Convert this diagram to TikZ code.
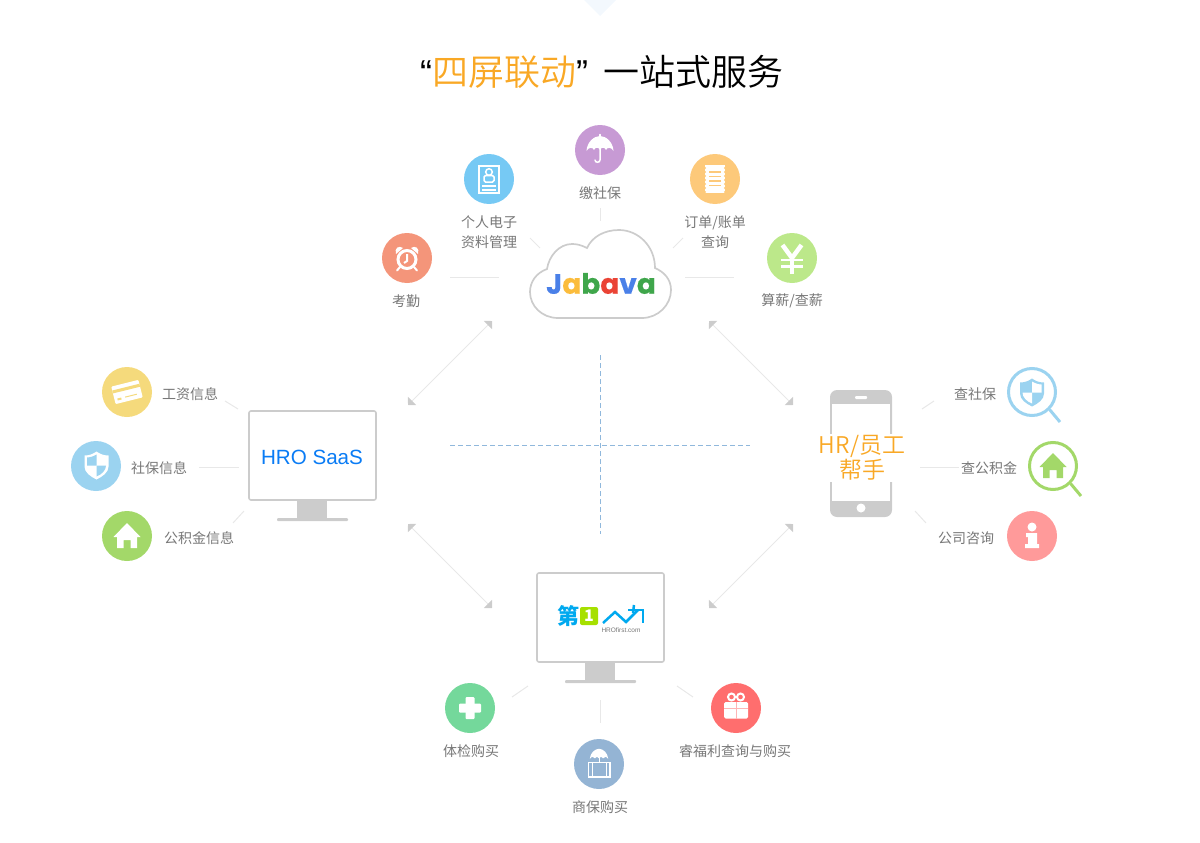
\documentclass[tikz,border=0pt]{standalone}
\usepackage{fontspec}
\usepackage{tikz}
\usetikzlibrary{arrows.meta}
\setmainfont{Noto Sans CJK SC}
\newfontfamily\lightcjk{Noto Sans CJK SC DemiLight}
\newfontfamily\latinfont{Liberation Sans}
\newfontfamily\logofont{Poppins}
\definecolor{titleorange}{HTML}{F9A825}
\definecolor{monogray}{HTML}{CCCCCC}
\definecolor{ticklight}{HTML}{E8E8E8}
\definecolor{labelgray}{HTML}{777777}
\definecolor{crossblue}{HTML}{90B8DC}
\definecolor{pageblue}{HTML}{F3F8FD}
\definecolor{shieldblue}{HTML}{9BD3F0}
\definecolor{housegreen}{HTML}{A3D869}
\definecolor{cardyellow}{HTML}{F5DA7C}
\definecolor{receiptorange}{HTML}{FDC97A}
\definecolor{giftred}{HTML}{FF6E6E}
\definecolor{giftline}{HTML}{FFB5B5}
\definecolor{logoblue}{HTML}{00A9EF}
\definecolor{logogreen}{HTML}{A6E000}
\definecolor{saasblue}{HTML}{0A7CF5}
\definecolor{clockred}{HTML}{F4957A}
\definecolor{profileblue}{HTML}{76C9F4}
\definecolor{umbrellapurple}{HTML}{C79AD4}
\definecolor{salarygreen}{HTML}{BCE88A}
\definecolor{infopink}{HTML}{FF9A9A}
\definecolor{healthgreen}{HTML}{74D89B}
\definecolor{coverblue}{HTML}{94B4D4}
\tikzset{
  iconbase/.style={circle,minimum size=50pt,inner sep=0pt,fill=#1},
  itemlabel/.style={text=labelgray,font=\fontsize{14}{20}\selectfont,align=center,inner sep=0pt},
  tickline/.style={draw=ticklight,line width=1pt},
  linkarrow/.style={draw=ticklight,line width=1pt,
    {Triangle[length=5.7pt,width=11.3pt,color=monogray]}-{Triangle[length=5.7pt,width=11.3pt,color=monogray]}},
  crossline/.style={draw=crossblue,line width=1pt,dash pattern=on 5pt off 3pt},
  pics/monitor/.style={code={
    \draw[monogray,line width=1.6pt,rounded corners=2pt,fill=white] (0,0) rectangle (127,89);
    \fill[monogray] (48,90) rectangle (78,107);
    \fill[monogray,rounded corners=1pt] (28,107) rectangle (99,110);
  }},
  pics/shieldicon/.style 2 args={code={
    \fill[#1] (0,-14) .. controls (4,-11) and (8,-10) .. (12,-10) -- (12,1) .. controls (12,7) and (6,11) .. (0,14)
      .. controls (-6,11) and (-12,7) .. (-12,1) -- (-12,-10) .. controls (-8,-10) and (-4,-11) .. (0,-14) -- cycle;
    \fill[#2] (0,-11) .. controls (3,-9) and (7,-8) .. (9.5,-8) -- (9.5,0) -- (0,0) -- cycle;
    \fill[#2] (-9.5,0) -- (0,0) -- (0,11) .. controls (-5,9) and (-9.5,5) .. (-9.5,0) -- cycle;
  }},
  pics/houseicon/.style={code={
    \fill[#1] (0,-13) -- (13.5,1) -- (10,1) -- (10,12) -- (3.5,12) -- (3.5,4) -- (-3.5,4) -- (-3.5,12) -- (-10,12) -- (-10,1) -- (-13.5,1) -- cycle;
  }},
  pics/umbrellaicon/.style={code={
    \fill[white] (-13.5,0) .. controls (-13,-9) and (-6,-15) .. (0,-15) .. controls (6,-15) and (13,-9) .. (13.5,0)
      .. controls (11.5,-4) and (7,-4) .. (6,-1) .. controls (5,-4) and (1,-4) .. (0,-1)
      .. controls (-1,-4) and (-5,-4) .. (-6,-1) .. controls (-7,-4) and (-11.5,-4) .. (-13.5,0) -- cycle;
  }},
}
\begin{document}
\begin{tikzpicture}[x=1pt,y=-1pt]
\useasboundingbox (0,0) rectangle (1200,843);
\fill[pageblue] (584,0) -- (616,0) -- (600,16) -- cycle;
% title
\node[font=\lightcjk\fontsize{36}{40}\selectfont,inner sep=0pt,anchor=west] (title) at (420,72) {{\latinfont “}\textcolor{titleorange}{四屏联动}{\latinfont ”}\hspace{15pt}一站式服务};
% centre cross
\coordinate (crossT) at (600.5,355);
\coordinate (crossB) at (600.5,534);
\coordinate (crossL) at (450,445);
\coordinate (crossR) at (750,445);
\draw[crossline] (crossT) -- (crossB);
\draw[crossline] (crossL) -- (crossR);
% links between the four screens
\coordinate (tlA) at (408,405);
\coordinate (tlB) at (492,321);
\coordinate (trA) at (793,405);
\coordinate (trB) at (709,321);
\coordinate (blA) at (408,524);
\coordinate (blB) at (492,608);
\coordinate (brA) at (793,524);
\coordinate (brB) at (709,608);
\draw[linkarrow] (tlA) -- (tlB);
\draw[linkarrow] (trA) -- (trB);
\draw[linkarrow] (blA) -- (blB);
\draw[linkarrow] (brA) -- (brB);
% cloud
\draw[monogray,line width=1.7pt] (558,318) -- (642,318) .. controls (658,318) and (671,305) .. (671,290)
  .. controls (671,279) and (664,272) .. (655,268) .. controls (655,246) and (638,230) .. (619,230)
  .. controls (604,230) and (592,237) .. (587,248) .. controls (581,245) and (577,244) .. (572,244)
  .. controls (559,244) and (549,256) .. (547,269) .. controls (536,273) and (530,282) .. (530,292)
  .. controls (530,306) and (542,318) .. (558,318) -- cycle;
\node[font=\logofont\bfseries\fontsize{28}{30}\selectfont,inner sep=0pt] (jabava) at (601,283.5)
  {\addfontfeatures{LetterSpace=6,FakeBold=0.3}\textcolor[HTML]{4A80E8}{J}\textcolor[HTML]{FBBC3C}{a}\textcolor[HTML]{3FA64B}{b}\textcolor[HTML]{EA4335}{a}\textcolor[HTML]{4A80E8}{v}\textcolor[HTML]{3FA64B}{a}};
% top icons
\node[iconbase=clockred] (clock) at (407,258) {};
\node[iconbase=profileblue] (profile) at (489,179) {};
\node[iconbase=umbrellapurple] (umbrella) at (600,150) {};
\node[iconbase=receiptorange] (receipt) at (715,179) {};
\node[iconbase=salarygreen] (salary) at (792,258) {};
\draw[white,line width=3pt] (407,259.5) circle (9);
\draw[white,line width=2pt] (407,254) -- (407,261) -- (404,263);
\fill[white] (396,254) .. controls (394,248) and (399,245) .. (403,248) -- cycle;
\fill[white] (418,254) .. controls (420,248) and (415,245) .. (411,248) -- cycle;
\draw[white,line width=2pt,line cap=round] (400,267) -- (397,270.5);
\draw[white,line width=2pt,line cap=round] (414,267) -- (417,270.5);
\draw[white,line width=2pt] (479,166) rectangle (499,193);
\draw[white,line width=1.5pt] (489,172) circle (3.3);
\draw[white,line width=1.5pt,rounded corners=1.5pt] (484,175.5) rectangle (494,182);
\draw[white,line width=1.5pt] (482,186) -- (496,186);
\draw[white,line width=1.5pt] (482,190) -- (496,190);
\pic at (600,151) {umbrellaicon};
\draw[white,line width=1.5pt,line cap=round] (600,134.5) -- (600,137);
\draw[white,line width=1.5pt,line cap=round] (600,148) -- (600,160) .. controls (600,163) and (595,163) .. (595,160);
\fill[white] (705,165) rectangle (725,193);
\foreach \yy in {168,172,...,192} {
  \fill[receiptorange] (705,\yy) circle (1.1);
  \fill[receiptorange] (725,\yy) circle (1.1);
}
\foreach \yy in {172,176.5,181,185.5}
  \draw[receiptorange,line width=1.3pt] (709,\yy) -- (721,\yy);
\draw[white,line width=4.5pt] (782.5,245) -- (792,258) -- (801.5,245);
\draw[white,line width=4.5pt] (792,258) -- (792,273.5);
\draw[white,line width=2.8pt] (781,260) -- (803,260);
\draw[white,line width=2.8pt] (781,266.5) -- (803,266.5);
% left icons
\node[iconbase=cardyellow] (card) at (127,392) {};
\node[iconbase=shieldblue] (shield) at (96,466) {};
\node[iconbase=housegreen] (house) at (127,536) {};
\begin{scope}[shift={(127,392)},rotate=14]
\fill[white,rounded corners=1pt] (-14,-9) rectangle (14,9);
\fill[cardyellow] (-14,-5) rectangle (14,-2);
\fill[cardyellow] (-11,4) rectangle (-7,6);
\fill[cardyellow] (-3,4) rectangle (9,5);
\end{scope}
\pic[xscale=-1] at (96.5,465.5) {shieldicon={white}{shieldblue}};
\pic at (127,536) {houseicon=white};
% right icons
\node[iconbase=white,draw=shieldblue,line width=3pt,minimum size=47pt] (searchA) at (1032,392) {};
\node[iconbase=white,draw=housegreen,line width=3pt,minimum size=47pt] (searchB) at (1053,466) {};
\node[iconbase=infopink] (info) at (1032,536) {};
\coordinate (handleA) at (1060,422);
\coordinate (handleB) at (1081,496);
\draw[shieldblue,line width=3pt] (searchA.-45) -- (handleA);
\draw[housegreen,line width=3pt] (searchB.-45) -- (handleB);
\pic at (1032,392.5) {shieldicon={shieldblue}{white}};
\pic at (1053,466) {houseicon=housegreen};
\fill[white] (1032,527) circle (4.5);
\fill[white] (1026,533) -- (1037,533) -- (1037,544) -- (1039,544) -- (1039,548) -- (1025,548) -- (1025,544) -- (1028,544) -- (1028,537) -- (1026,537) -- cycle;
% bottom icons
\node[iconbase=healthgreen] (health) at (470,708) {};
\node[iconbase=coverblue] (cover) at (599,764) {};
\node[iconbase=giftred] (gift) at (736,708) {};
\fill[white,rounded corners=1pt] (465.5,697) rectangle (474.5,719);
\fill[white,rounded corners=1pt] (459,703.5) rectangle (481,712.5);
\pic[scale=0.68] at (599,759) {umbrellaicon};
\draw[white,line width=1pt] (599,756) -- (599,762);
\draw[white,line width=1.2pt] (588.5,762.5) rectangle (610,777);
\draw[white,line width=1pt] (592.5,762.5) -- (592.5,777);
\draw[white,line width=1pt] (606,762.5) -- (606,777);
\fill[white,rounded corners=1.5pt] (724,702) rectangle (748,718.5);
\draw[white,line width=2pt] (731.5,697) circle (3.5);
\draw[white,line width=2pt] (740.5,697) circle (3.5);
\fill[giftline] (735.5,702) rectangle (736.5,718.5);
\fill[giftline] (724,708) rectangle (748,709.4);
% monitors
\pic at (249,411) {monitor};
\pic at (537,573) {monitor};
\node[font=\latinfont\fontsize{20.6}{24}\selectfont,text=saasblue,inner sep=0pt] (saas) at (312,457) {HRO SaaS};
% logo
\node[font=\bfseries\fontsize{22}{24}\selectfont,text=logoblue,inner sep=0pt] (logodi) at (568,616) {第};
\node[fill=logogreen,text=white,rounded corners=2pt,minimum size=18pt,inner sep=0pt,font=\bfseries\fontsize{16}{16}\selectfont] (logoone) at (589,616) {1};
\draw[logoblue,line width=2.5pt] (603,623) -- (615,612) -- (626,622) -- (638,610);
\draw[logoblue,line width=2.5pt] (628,610) -- (643,610) -- (643,623);
\draw[logoblue,line width=2.5pt] (634,605) -- (633,613);
\node[font=\latinfont\fontsize{6.5}{7}\selectfont,text=labelgray,inner sep=0pt] (logotext) at (621,630) {HROfirst.com};
% phone
\fill[monogray,rounded corners=7pt] (830,390) rectangle (892,517);
\fill[white] (832,404) rectangle (890,501);
\fill[white,rounded corners=1pt] (855,396) rectangle (867,399);
\fill[white] (861,508) circle (4.5);
\node[font=\lightcjk\fontsize{23}{25}\selectfont,text=titleorange,fill=white,align=center,inner sep=1pt] (phonetext) at (862,458) {HR/员工\\帮手};
% labels
\node[itemlabel] (clocklabel) at (406,301) {考勤};
\node[itemlabel] (profilelabel) at (489,232) {个人电子\\资料管理};
\node[itemlabel] (umbrellalabel) at (600,193) {缴社保};
\node[itemlabel] (receiptlabel) at (715,232) {订单/账单\\查询};
\node[itemlabel] (salarylabel) at (792,301) {算薪/查薪};
\node[itemlabel] (cardlabel) at (190,394) {工资信息};
\node[itemlabel] (shieldlabel) at (159,468) {社保信息};
\node[itemlabel] (houselabel) at (199,538) {公积金信息};
\node[itemlabel] (searchAlabel) at (975,394) {查社保};
\node[itemlabel] (searchBlabel) at (989,468) {查公积金};
\node[itemlabel] (infolabel) at (966,538) {公司咨询};
\node[itemlabel] (healthlabel) at (471,751) {体检购买};
\node[itemlabel] (coverlabel) at (600,807) {商保购买};
\node[itemlabel] (giftlabel) at (735,751) {睿福利查询与购买};
% short ticks
\foreach \xa/\ya/\xb/\yb in {600/208/600/221,530/238/540/248,683/238/673/248,450/277.5/499/277.5,685/277.5/734/277.5,
  225/401/238/409,199/467.5/239/467.5,244/511/233/523,934/401/922/409,920/467.5/959/467.5,915/511/926/523,
  528/686/512/697,600.5/700/600.5/723,677/686/693/697}
  \draw[tickline] (\xa,\ya) -- (\xb,\yb);
\end{tikzpicture}
\end{document}
